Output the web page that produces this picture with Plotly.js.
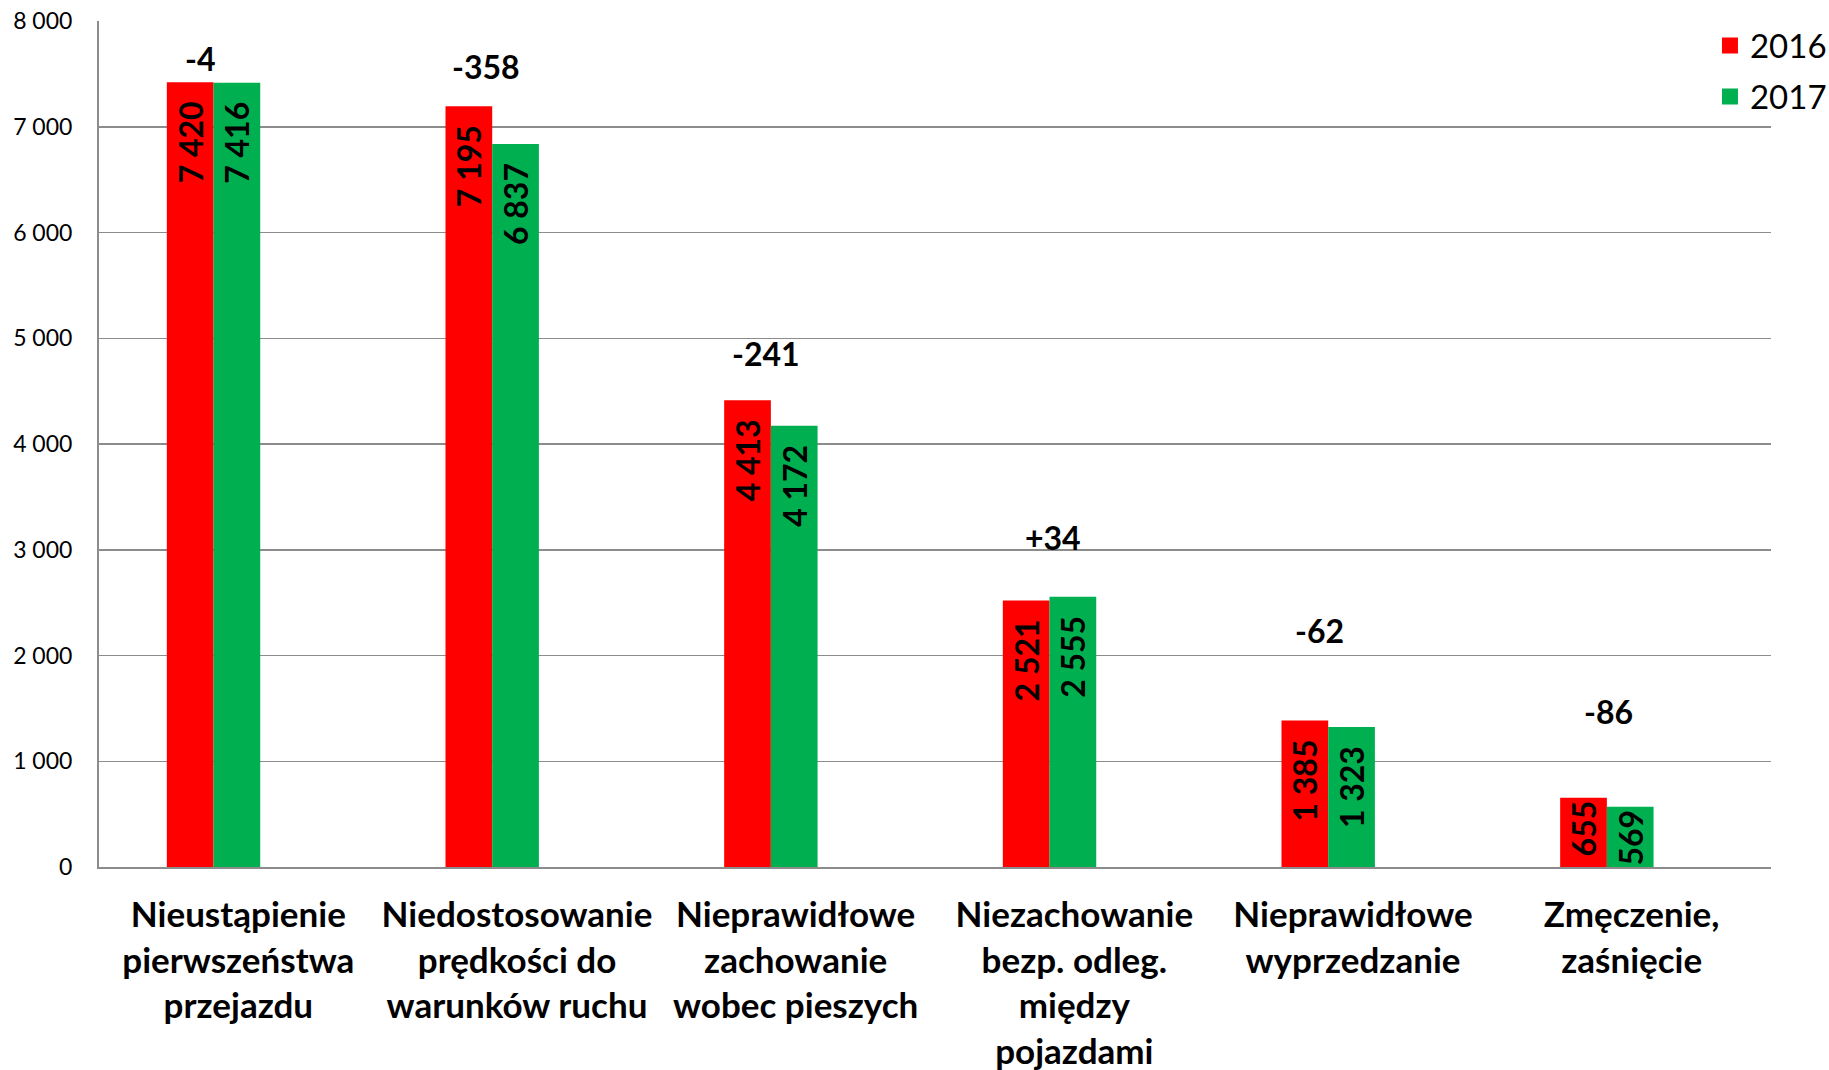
<!DOCTYPE html>
<html>
<head>
<meta charset="utf-8">
<script src="https://cdn.plot.ly/plotly-3.0.1.min.js"></script>
<style>
  html, body { margin: 0; padding: 0; background: #ffffff; }
  #chart { width: 1829px; height: 1070px; }
</style>
</head>
<body>
<div id="chart"></div>
<script>
// ---- data ----
const categories = [
  'Nieustąpienie<br>pierwszeństwa<br>przejazdu',
  'Niedostosowanie<br>prędkości do<br>warunków ruchu',
  'Nieprawidłowe<br>zachowanie<br>wobec pieszych',
  'Niezachowanie<br>bezp. odleg.<br>między<br>pojazdami',
  'Nieprawidłowe<br>wyprzedzanie',
  'Zmęczenie,<br>zaśnięcie'
];
const values2016 = [7420, 7195, 4413, 2521, 1385, 655];
const values2017 = [7416, 6837, 4172, 2555, 1323, 569];
const seriesNames = ['2016', '2017'];
const yTickValues = [0, 1000, 2000, 3000, 4000, 5000, 6000, 7000, 8000];

// ---- styling (label placement nudges, not data) ----
const diffLabelLift = [229, 378, 446, 559, 848, 815];
const diffLabelXShift = [-38, -31, -30, -21, -34, -23];

const RED = '#FF0000';
const GREEN = '#00B050';

function fmt(v) {
  return String(v).replace(/\B(?=(\d{3})+(?!\d))/g, '\u00a0');
}
function fmtDiff(d) {
  return (d > 0 ? '+' : (d < 0 ? '-' : '')) + fmt(Math.abs(d));
}
// in-bar label: a small trailing gap at the top of tall bars (as "inside end")
function barLabel(v) {
  return '<b>' + fmt(v) + (v >= 1000 ? '\u2002' : '') + '</b>';
}

const FONT = 'Lato, "Open Sans", sans-serif';
const barWidth = 0.1676;
const barOffset = -0.2566;

const barTextFont = { family: FONT, size: 32, color: '#000000', weight: 'bold' };

const traces = [
  {
    type: 'bar', name: seriesNames[0], x: categories, y: values2016,
    marker: { color: RED },
    width: barWidth, offset: barOffset,
    text: values2016.map(barLabel), textposition: 'inside', insidetextanchor: 'end',
    textangle: -90, textfont: barTextFont, insidetextfont: barTextFont, constraintext: 'none',
    showlegend: false, hoverinfo: 'skip'
  },
  {
    type: 'bar', name: seriesNames[1], x: categories, y: values2017,
    marker: { color: GREEN },
    width: barWidth, offset: barOffset + barWidth,
    text: values2017.map(barLabel), textposition: 'inside', insidetextanchor: 'end',
    textangle: -90, textfont: barTextFont, insidetextfont: barTextFont, constraintext: 'none',
    showlegend: false, hoverinfo: 'skip'
  },
  // legend entries (no plotted points)
  {
    type: 'scatter', mode: 'markers', name: seriesNames[0], x: [null], y: [null],
    marker: { symbol: 'square', size: 16, color: RED },
    legendgroup: 'a', showlegend: true, hoverinfo: 'skip'
  },
  {
    type: 'scatter', mode: 'markers', name: seriesNames[1], x: [null], y: [null],
    marker: { symbol: 'square', size: 16, color: GREEN },
    legendgroup: 'b', showlegend: true, hoverinfo: 'skip'
  }
];

const annotations = categories.map((c, i) => ({
  x: c, xref: 'x', y: Math.max(values2016[i], values2017[i]) + diffLabelLift[i], yref: 'y',
  text: '<b>' + fmtDiff(values2017[i] - values2016[i]) + '</b>',
  showarrow: false, xanchor: 'center', yanchor: 'middle', xshift: diffLabelXShift[i],
  font: { family: FONT, size: 32, color: '#000000' }
}));

const layout = {
  width: 1829, height: 1070,
  margin: { l: 99, r: 58, t: 21, b: 203, autoexpand: false },
  paper_bgcolor: '#ffffff', plot_bgcolor: '#ffffff',
  font: { family: FONT, color: '#000000' },
  separators: ', ',
  barmode: 'overlay',
  showlegend: true,
  legend: {
    x: 0.9635, xanchor: 'left', y: 1.004, yanchor: 'top',
    bgcolor: 'rgba(0,0,0,0)',
    font: { family: FONT, size: 33, color: '#000000' },
    traceorder: 'grouped', tracegroupgap: 5,
    itemsizing: 'trace'
  },
  xaxis: {
    type: 'category', categoryorder: 'array', categoryarray: categories,
    showline: true, linecolor: '#8c8c8c', linewidth: 2,
    ticks: '', showgrid: false,
    tickfont: { family: FONT, size: 35, color: '#000000', weight: 'bold' },
    ticklabelstandoff: 16,
    fixedrange: true
  },
  yaxis: {
    range: [0, 8000], tickvals: yTickValues, ticktext: yTickValues.map(fmt),
    showline: true, linecolor: '#8c8c8c', linewidth: 2,
    showgrid: true, gridcolor: '#8c8c8c', gridwidth: 1.5,
    zeroline: false, ticks: '',
    tickfont: { family: FONT, size: 23, color: '#000000' },
    ticklabelstandoff: 20,
    fixedrange: true
  },
  annotations: annotations
};

Plotly.newPlot('chart', traces, layout, { displayModeBar: false, staticPlot: true });
</script>
</body>
</html>
